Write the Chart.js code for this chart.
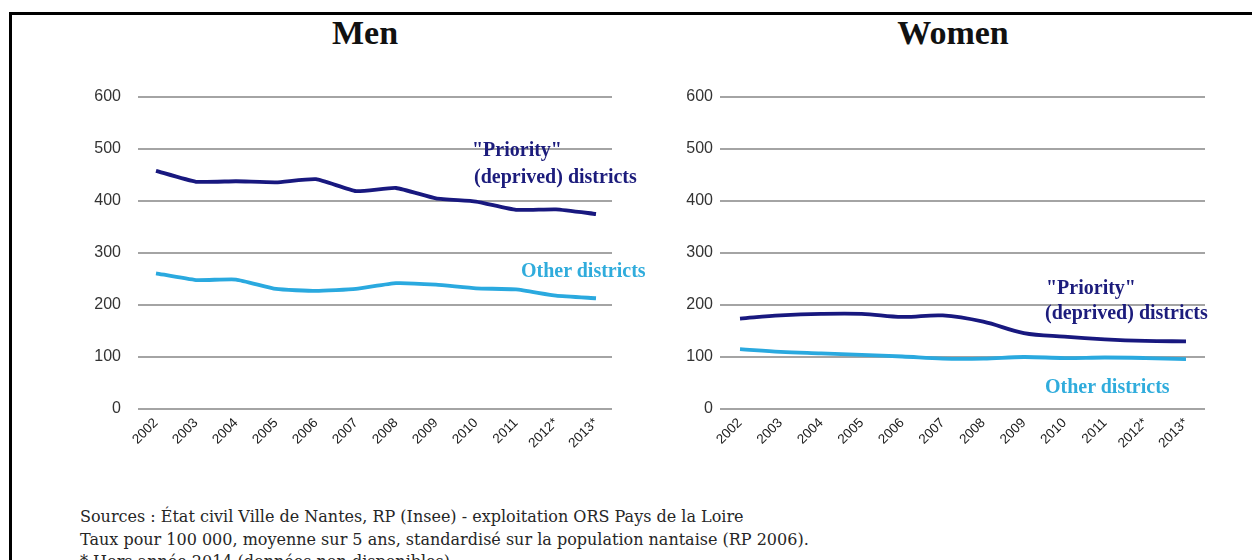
<!DOCTYPE html>
<html>
<head>
<meta charset="utf-8">
<script src="https://cdn.jsdelivr.net/npm/chart.js@4/dist/chart.umd.min.js"></script>
<style>
  html, body { margin: 0; padding: 0; background: #fff; width: 1252px; height: 560px; overflow: hidden; position: relative; }
  .frame { position: absolute; left: 9px; top: 12px; width: 1300px; height: 600px; border-left: 3px solid #000; border-top: 3px solid #000; }
  .title { position: absolute; top: 16px; width: 240px; text-align: center; font-family: "Liberation Serif", "Times New Roman", serif; font-weight: bold; font-size: 34px; line-height: 34px; color: #111; }
  .wrap { position: absolute; }
  .note { position: absolute; font-family: "Liberation Serif", "Times New Roman", serif; font-weight: bold; font-size: 20px; line-height: 20px; white-space: nowrap; }
  .prio { color: #1c1c7c; }
  .other { color: #30acdc; }
  .src { position: absolute; left: 80px; top: 506px; font-family: "DejaVu Serif", serif; font-size: 16px; line-height: 22.5px; color: #262626; white-space: nowrap; }
</style>
</head>
<body>
<div class="frame"></div>
<div class="title" style="left:245px;">Men</div>
<div class="title" style="left:833px;">Women</div>

<div class="wrap" style="left:60px; top:60px;"><canvas id="men" width="600" height="420"></canvas></div>
<div class="wrap" style="left:640px; top:60px;"><canvas id="women" width="612" height="420"></canvas></div>

<div class="note prio" style="left:472px; top:139px;">"Priority"</div>
<div class="note prio" style="left:474px; top:166px;">(deprived) districts</div>
<div class="note other" style="left:521px; top:260px;">Other districts</div>

<div class="note prio" style="left:1046px; top:277px;">"Priority"</div>
<div class="note prio" style="left:1045px; top:302px;">(deprived) districts</div>
<div class="note other" style="left:1045px; top:376px;">Other districts</div>

<div class="src">Sources : État civil Ville de Nantes, RP (Insee) - exploitation ORS Pays de la Loire<br>Taux pour 100 000, moyenne sur 5 ans, standardisé sur la population nantaise (RP 2006).<br>* Hors année 2014 (données non disponibles).</div>

<script>
const years = ['2002','2003','2004','2005','2006','2007','2008','2009','2010','2011','2012*','2013*'];
const menPriority = [458, 437, 438, 436, 442, 419, 425, 405, 399, 383, 384, 375];
const menOther = [261, 248, 249, 231, 227, 231, 242, 239, 232, 230, 218, 213];
const womenPriority = [174, 180, 183, 183, 177, 180, 168, 146, 139, 134, 131, 130];
const womenOther = [115, 110, 107, 104, 101, 97, 97, 100, 98, 99, 98, 96];
const yMin = 0, yMax = 600, yStep = 100;

const colPriority = '#18187f';
const colOther = '#2aa9df';

const extGrid = {
  id: 'extGrid',
  beforeDatasetsDraw(chart, args, opts) {
    const y = chart.scales.y, a = chart.chartArea, ctx = chart.ctx;
    ctx.save();
    ctx.strokeStyle = '#a4a4a4';
    ctx.lineWidth = 2.2;
    y.ticks.forEach(t => {
      const py = Math.round(y.getPixelForValue(t.value));
      ctx.beginPath();
      ctx.moveTo(a.left - opts.left, py);
      ctx.lineTo(a.right + opts.right, py);
      ctx.stroke();
    });
    ctx.restore();
  }
};

function makeChart(id, pri, oth, cfg) {
  return new Chart(document.getElementById(id), {
    type: 'line',
    data: {
      labels: years,
      datasets: [
        { data: pri, borderColor: colPriority, borderWidth: 3.8, pointRadius: 0, tension: cfg.tension, fill: false },
        { data: oth, borderColor: colOther, borderWidth: 3.8, pointRadius: 0, tension: cfg.tension, fill: false }
      ]
    },
    options: {
      responsive: false,
      animation: false,
      layout: { padding: { left: 0, right: cfg.padRight, top: 37, bottom: 0 } },
      plugins: { legend: { display: false }, tooltip: { enabled: false }, extGrid: cfg.grid },
      scales: {
        x: {
          offset: false,
          grid: { display: false, drawTicks: false },
          border: { display: false },
          ticks: { minRotation: 45, maxRotation: 45, padding: 6, color: '#1a1a1a', font: { family: 'Liberation Sans, Arial, sans-serif', size: 13.5 } },
          afterFit(s) { s.height = 71; }
        },
        y: {
          min: yMin, max: yMax,
          grid: { display: false, drawTicks: true, tickLength: cfg.tickLen },
          border: { display: false },
          ticks: { stepSize: yStep, padding: 5, color: '#333', font: { family: 'Liberation Sans, Arial, sans-serif', size: 16 } },
          afterFit(s) { s.width = cfg.yWidth; }
        }
      }
    },
    plugins: [extGrid]
  });
}

makeChart('men', menPriority, menOther, { padRight: 64, yWidth: 96, tickLen: 30, tension: 0.15, grid: { left: 18, right: 16 } });
makeChart('women', womenPriority, womenOther, { padRight: 66, yWidth: 100, tickLen: 22, tension: 0.35, grid: { left: 20, right: 19 } });
</script>
</body>
</html>
